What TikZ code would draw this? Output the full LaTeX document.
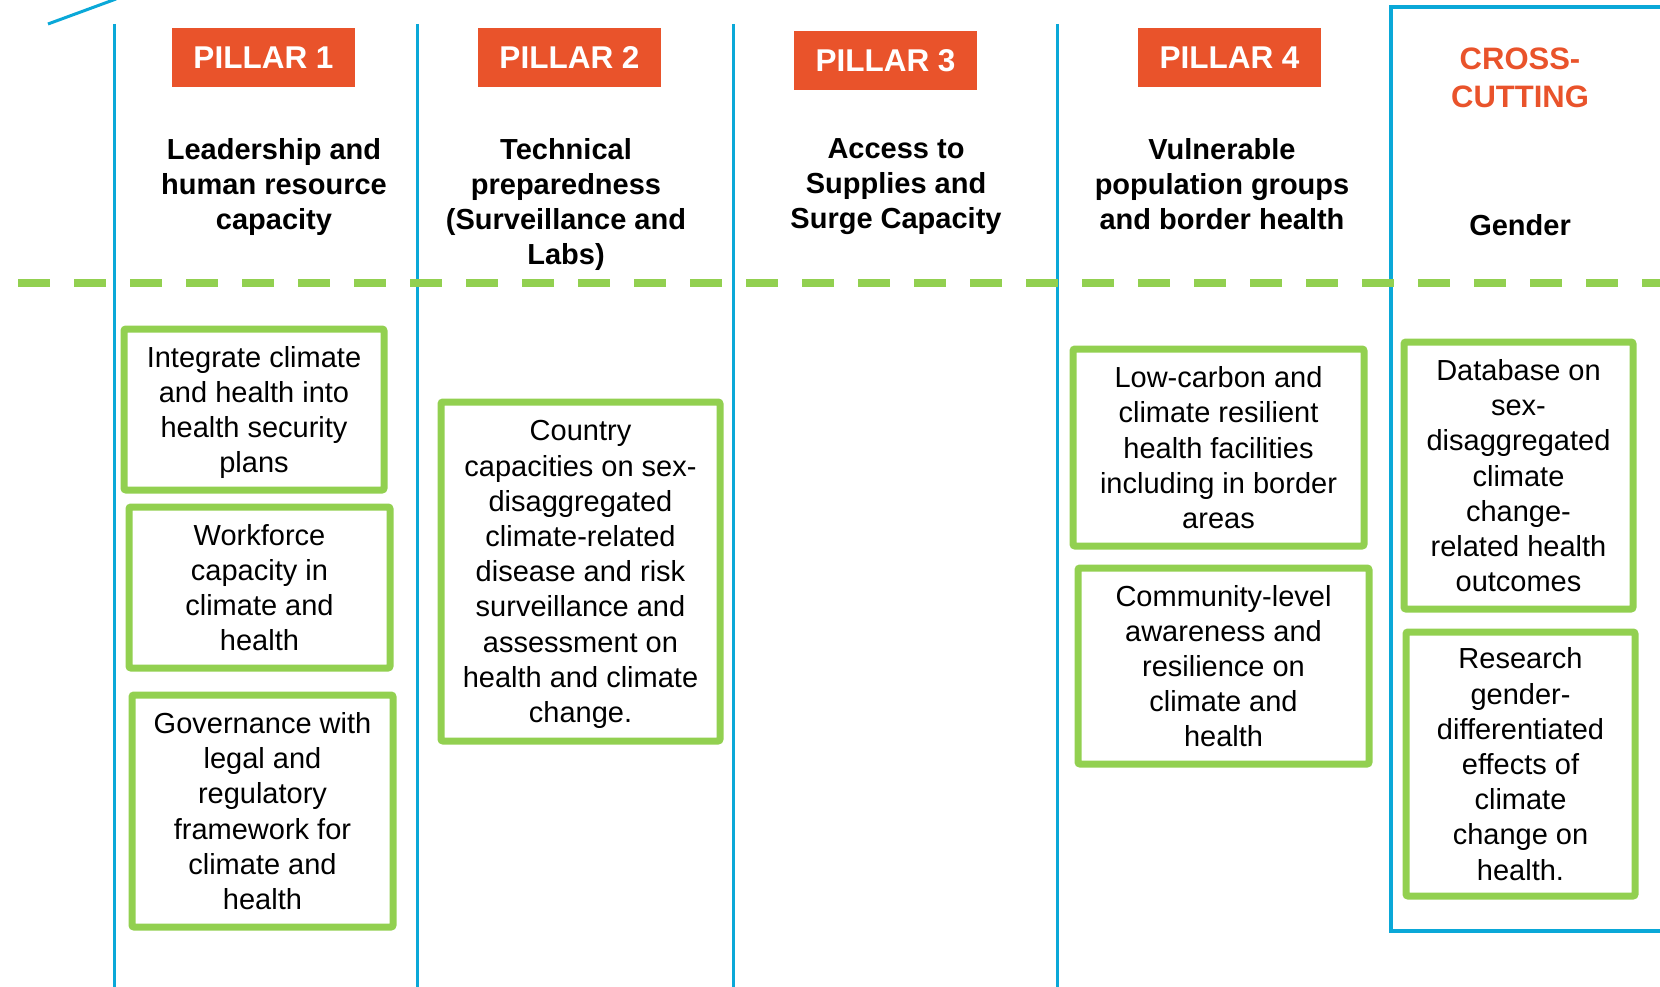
\documentclass[tikz,border=0pt]{standalone}
\usepackage{fontspec}
\setmainfont{Liberation Sans}
\definecolor{pillarfill}{HTML}{E9532B}
\definecolor{dividerblue}{HTML}{0AA8D8}
\definecolor{actiongreen}{HTML}{92D050}
\tikzset{
  pillar/.style={
    rectangle,
    fill=pillarfill,
    text=white,
    inner sep=0pt,
    minimum width=183pt,
    minimum height=59pt,
    font=\fontsize{31.5}{38}\selectfont\bfseries
  },
  heading/.style={align=center, anchor=north, inner sep=0pt, font=\fontsize{29}{35}\selectfont\bfseries},
  crosshead/.style={align=center, inner sep=0pt, text=pillarfill, font=\fontsize{31}{38.4}\selectfont\bfseries},
  action/.style={
    rectangle,
    rounded corners=2pt,
    draw=actiongreen,
    fill=white,
    line width=7pt,
    align=center,
    inner sep=0pt,
    text depth=0pt,
    font=\fontsize{29}{35.2}\selectfont
  },
  divider/.style={draw=dividerblue, line width=3pt},
  band/.style={draw=actiongreen, line width=8pt, dash pattern=on 32pt off 24pt}
}

\begin{document}
\begin{tikzpicture}[x=1pt, y=-1pt]
\useasboundingbox (0,0) rectangle (1660,987);

% Column dividers.
\draw[divider] (48,24) -- (116,-1);
\foreach \x in {114,417,733,1057} {
  \draw[divider] (\x,24) -- (\x,990);
}
\draw[divider, line width=4pt] (1700,7) -- (1391,7) -- (1391,931) -- (1700,931);

% Pillar labels.
\node[pillar] (pillar1) at (263.5,57.5) {PILLAR 1};
\node[pillar] (pillar2) at (569.5,57.5) {PILLAR 2};
\node[pillar] (pillar3) at (885.5,60.5) {PILLAR 3};
\node[pillar] (pillar4) at (1229.5,57.5) {PILLAR 4};
\node[crosshead] (crosscut) at (1520,78) {CROSS-\\CUTTING};

% Pillar titles (top aligned).
\node[heading] (leadership) at (274,138) {Leadership and\\human resource\\capacity};
\node[heading] (technical) at (566,138) {Technical\\preparedness\\(Surveillance and\\Labs)};
\node[heading] (access) at (896,138) {Access to\\Supplies and\\Surge Capacity};
\node[heading] (vulnerable) at (1222,138) {Vulnerable\\population groups\\and border health};
\node[heading] (gender) at (1520,214) {Gender};

% Separator between titles and actions.
\draw[band] (18,283) -- (1660,283);

% Pillar 1 actions.
\node[action, minimum width=260pt, minimum height=161pt] (integrate) at (254,409.5)
  {Integrate climate\\and health into\\health security\\plans};
\node[action, minimum width=261pt, minimum height=161pt] (workforce) at (259.5,587.5)
  {Workforce\\capacity in\\climate and\\health};
\node[action, minimum width=261pt, minimum height=232pt] (governance) at (262.5,811)
  {Governance with\\legal and\\regulatory\\framework for\\climate and\\health};

% Pillar 2 actions.
\node[action, minimum width=279pt, minimum height=339pt] (country) at (580.5,571.5)
  {Country\\capacities on sex-\\disaggregated\\climate-related\\disease and risk\\surveillance and\\assessment on\\health and climate\\change.};

% Pillar 4 actions.
\node[action, minimum width=291pt, minimum height=197pt] (lowcarbon) at (1218.5,447.5)
  {Low-carbon and\\climate resilient\\health facilities\\including in border\\areas};
\node[action, minimum width=291pt, minimum height=196pt] (community) at (1223.5,666)
  {Community-level\\awareness and\\resilience on\\climate and\\health};

% Cross-cutting actions.
\node[action, minimum width=229pt, minimum height=267pt] (database) at (1518.5,475.5)
  {Database on\\sex-\\disaggregated\\climate\\change-\\related health\\outcomes};
\node[action, minimum width=229pt, minimum height=264pt] (research) at (1520.5,764)
  {Research\\gender-\\differentiated\\effects of\\climate\\change on\\health.};

\end{tikzpicture}
\end{document}
